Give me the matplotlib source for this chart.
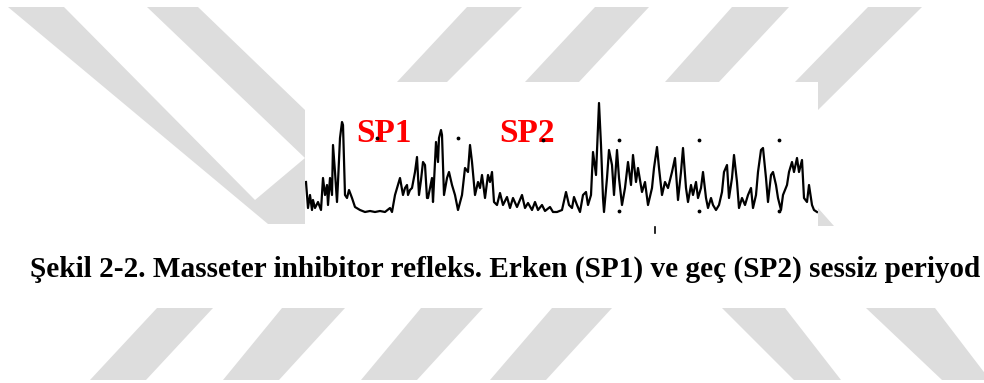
import matplotlib
matplotlib.use("Agg")
import matplotlib.pyplot as plt
from matplotlib.patches import Polygon
import numpy as np

# EMG trace: time (ms, from trace start) and rectified amplitude
t = [1, 3, 5, 7, 8, 10, 13, 16, 18, 20, 22, 23, 25, 27, 28, 30, 32, 33, 35, 37, 38, 40,
     42, 44, 47, 50, 55, 60, 65, 70, 75, 80, 85, 87, 90, 95, 98, 100, 102, 103, 105, 107,
     110, 112, 114, 116, 118, 120, 122, 123, 127, 128, 131, 133, 134, 136, 137, 139, 142,
     144, 147, 150, 153, 157, 160, 163, 165, 167, 170, 173, 175, 177, 180, 183, 185, 187,
     189, 192, 195, 198, 202, 205, 208, 212, 217, 220, 223, 227, 230, 233, 237, 240, 245,
     248, 252, 257, 261, 264, 267, 269, 272, 275, 278, 281, 283, 286, 288, 291, 293, 294,
     296, 298, 299, 302, 304, 307, 309, 312, 314, 317, 320, 323, 326, 328, 331, 333, 337,
     340, 343, 347, 349, 352, 354, 357, 360, 363, 367, 370, 373, 376, 378, 381, 383, 386,
     388, 391, 393, 396, 398, 401, 403, 406, 408, 411, 414, 417, 419, 422, 424, 427, 429,
     432, 434, 437, 440, 443, 446, 448, 451, 453, 456, 458, 461, 463, 466, 468, 471, 473,
     476, 478, 482, 484, 487, 489, 492, 494, 497, 499, 502, 504, 507, 509, 512]
amp = [30, 4, 17, 2, 12, 4, 10, 2, 34, 17, 27, 7, 34, 17, 67, 40, 10, 30, 74, 90, 87,
       17, 14, 22, 14, 5, 2, 0, 1, 0, 1, 0, 4, 0, 17, 34, 17, 24, 27, 17, 22, 24, 40, 55,
       17, 32, 50, 47, 14, 14, 34, 10, 70, 50, 74, 82, 77, 17, 34, 40, 27, 17, 2, 17, 44,
       40, 67, 50, 17, 30, 24, 37, 14, 37, 30, 40, 10, 7, 19, 7, 15, 4, 14, 5, 17, 4, 9,
       2, 10, 2, 7, 1, 5, 0, 0, 2, 20, 7, 4, 15, 7, 0, 17, 20, 7, 17, 60, 37, 84, 109, 67,
       14, 0, 34, 62, 47, 17, 62, 34, 7, 24, 50, 27, 57, 30, 44, 20, 30, 7, 24, 44, 65, 44,
       17, 30, 24, 40, 54, 12, 40, 64, 24, 10, 27, 17, 30, 14, 24, 40, 14, 4, 14, 7, 2, 7,
       20, 40, 47, 14, 34, 57, 30, 4, 14, 7, 17, 24, 4, 17, 40, 62, 64, 34, 10, 37, 40, 27,
       14, 2, 17, 27, 40, 50, 40, 54, 40, 52, 14, 10, 27, 7, 2, 0]

# time-grid dots printed on the record
dot_t = [72, 153, 238, 314, 394, 474, 314, 394, 474]
dot_amp = [74, 74, 72, 72, 72, 72, 1, 1, 1]
stim_t = 350

labels = ["SP1", "SP2"]
label_t = [79, 222]
label_amp = [78, 78]

caption = "Şekil 2-2. Masseter inhibitor refleks. Erken (SP1) ve geç (SP2) sessiz periyod"

W, H = 984, 383
gray = "#dddddd"

# watermark shapes (pixel coords, y down)
watermark = [
    [(8, 7), (64, 7), (255, 200), (305, 158), (305, 224), (268, 224)],
    [(147, 7), (198, 7), (305, 110), (305, 158)],
    [(467, 7), (522, 7), (447, 82), (397, 82)],
    [(595, 7), (649, 7), (579, 82), (525, 82)],
    [(732, 7), (789, 7), (719, 82), (665, 82)],
    [(868, 7), (922, 7), (818, 110), (818, 82), (795, 82)],
    [(818, 208), (818, 226), (834, 226)],
    [(157, 308), (213, 308), (146, 380), (90, 380)],
    [(282, 308), (345, 308), (279, 380), (223, 380)],
    [(421, 308), (483, 308), (417, 380), (361, 380)],
    [(552, 308), (612, 308), (546, 380), (490, 380)],
    [(722, 308), (785, 308), (841, 380), (794, 380)],
    [(866, 308), (935, 308), (990, 380), (942, 380)],
]

fig = plt.figure(figsize=(9.84, 3.83), dpi=100)
bg = fig.add_axes([0, 0, 1, 1])
bg.set_xlim(0, W)
bg.set_ylim(H, 0)
bg.axis("off")
for pts in watermark:
    bg.add_patch(Polygon(pts, closed=True, facecolor=gray, edgecolor="none"))

ax = fig.add_axes([305 / W, 1 - 226 / H, 513 / W, 144 / H])
ax.set_facecolor("white")
ax.set_xlim(0, 513)
ax.set_ylim(-14, 130)
ax.set_xticks([])
ax.set_yticks([])
for s in ax.spines.values():
    s.set_visible(False)

ax.plot(t, amp, color="black", linewidth=1.6, solid_joinstyle="round")
ax.scatter(dot_t, dot_amp, s=3, color="black", zorder=3)
ax.plot([stim_t, stim_t], [-15, -21], color="black", linewidth=1.2, clip_on=False)

for lab, lt, la in zip(labels, label_t, label_amp):
    ax.text(lt, la, lab, color="red", fontweight="bold", family="Liberation Serif",
            fontsize=24, ha="center", va="center", zorder=2)

txt = fig.text(30 / W, 1 - 277 / H, caption, fontsize=19, fontweight="bold",
               family="Liberation Serif", va="baseline", ha="left")
fig.canvas.draw()
w = txt.get_window_extent().width
txt.set_fontsize(19 * 948 / w)

fig.savefig("out.png", dpi=100)
